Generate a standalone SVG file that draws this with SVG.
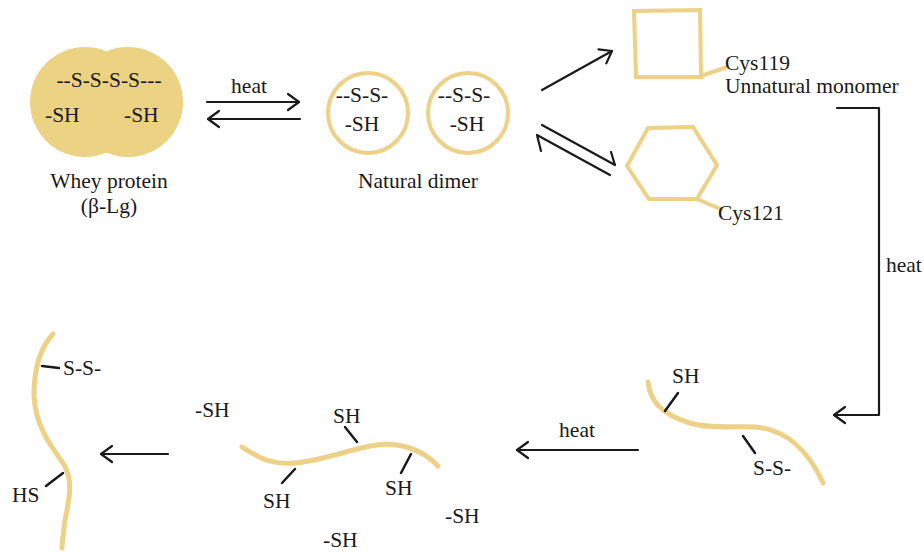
<svg xmlns="http://www.w3.org/2000/svg" width="924" height="552" viewBox="0 0 924 552">
  <style>
    text { font-family: "Liberation Serif", "Times New Roman", serif; font-size: 21.5px; fill: #1a1a1a; }
    .mid { text-anchor: middle; }
    .ring { fill: none; stroke: #ECD187; stroke-width: 4; }
    .chain { fill: none; stroke: #ECD187; stroke-width: 5; stroke-linecap: round; stroke-linejoin: round; }
    .tick { stroke: #1a1a1a; stroke-width: 2.5; stroke-linecap: round; }
    .arrow { fill: none; stroke: #1a1a1a; stroke-width: 2.2; stroke-linecap: round; stroke-linejoin: round; }
  </style>
  <defs>
    <marker id="head" viewBox="-14 -10 16 20" markerWidth="16" markerHeight="20" refX="0" refY="0" orient="auto" markerUnits="userSpaceOnUse">
      <path d="M-11,-8 L0,0 L-11,8" fill="none" stroke="#1a1a1a" stroke-width="2.2" stroke-linecap="round" stroke-linejoin="round"/>
    </marker>
  </defs>
  <rect width="924" height="552" fill="#ffffff"/>

  <!-- whey protein: two fused globules -->
  <g id="whey">
    <circle cx="85" cy="102" r="55" fill="#ECD283"/>
    <circle cx="128" cy="102" r="55" fill="#ECD283"/>
    <text x="109" y="87" class="mid">--S-S-S-S---</text>
    <text x="45" y="122">-SH</text>
    <text x="124" y="122">-SH</text>
    <text x="109" y="188" class="mid">Whey protein</text>
    <text x="109" y="213" class="mid">(β-Lg)</text>
  </g>

  <!-- natural dimer -->
  <g id="dimer">
    <circle cx="368" cy="113" r="40" class="ring"/>
    <circle cx="468" cy="113" r="40" class="ring"/>
    <text x="362" y="102" class="mid">--S-S-</text>
    <text x="362" y="131" class="mid">-SH</text>
    <text x="464" y="102" class="mid">--S-S-</text>
    <text x="467" y="131" class="mid">-SH</text>
    <text x="418" y="188" class="mid">Natural dimer</text>
  </g>

  <!-- unnatural monomer, Cys119 -->
  <g id="monomer119">
    <path d="M634,11 L700,10 L701,77 L636,77 Z" class="ring"/>
    <path d="M701,76 L727,67" class="ring" stroke-width="3"/>
    <text x="725" y="70">Cys119</text>
    <text x="725" y="93">Unnatural monomer</text>
  </g>

  <!-- monomer, Cys121 -->
  <g id="monomer121">
    <path d="M627,166 L648,128 L693,127 L717,165 L697,199 L649,199 Z" class="ring"/>
    <path d="M697,199 L723,210" class="ring" stroke-width="3"/>
    <text x="718" y="220">Cys121</text>
  </g>

  <!-- unfolded chain -->
  <g id="unfolded">
    <path d="M648,382 C650,400 660,414 690,423 C710,429 735,426 755,427 C785,429 808,450 823,483" class="chain"/>
    <line x1="678" y1="393" x2="665" y2="411" class="tick"/>
    <line x1="743" y1="436" x2="755" y2="453" class="tick"/>
    <text x="672" y="383">SH</text>
    <text x="753" y="475">S-S-</text>
  </g>

  <!-- chain with exposed thiols -->
  <g id="exposed">
    <path d="M242,447 C258,457 270,465 295,463 C320,461 345,451 370,446 C395,441 420,447 438,466" class="chain"/>
    <line x1="345" y1="427" x2="357" y2="442" class="tick"/>
    <line x1="295" y1="469" x2="282" y2="483" class="tick"/>
    <line x1="411" y1="454" x2="401" y2="473" class="tick"/>
    <text x="333" y="423">SH</text>
    <text x="263" y="508">SH</text>
    <text x="385" y="495">SH</text>
    <text x="195" y="417">-SH</text>
    <text x="445" y="523">-SH</text>
    <text x="323" y="547">-SH</text>
  </g>

  <!-- aggregated chain -->
  <g id="aggregate">
    <path d="M53,334 C40,348 34,370 34,395 C35,425 50,445 63,463 C74,480 69,500 65,520 C63,535 62,543 62,548" class="chain"/>
    <line x1="42" y1="366" x2="59" y2="368" class="tick"/>
    <line x1="63" y1="473" x2="46" y2="486" class="tick"/>
    <text x="63" y="375">S-S-</text>
    <text x="12" y="502">HS</text>
  </g>

  <!-- reaction arrows -->
  <g id="connectors">
    <line x1="207" y1="102" x2="299" y2="102" class="arrow" marker-end="url(#head)"/>
    <line x1="300" y1="119" x2="208" y2="119" class="arrow" marker-end="url(#head)"/>
    <text x="249" y="93" class="mid">heat</text>

    <line x1="542" y1="90" x2="612" y2="51" class="arrow" marker-end="url(#head)"/>

    <path d="M542,125 L615,165 L611,152" class="arrow"/>
    <path d="M610,175 L537,135 L541,151" class="arrow"/>

    <path d="M837,108 L879,108 L879,415 L834,415" class="arrow" marker-end="url(#head)"/>
    <text x="886" y="272">heat</text>

    <line x1="638" y1="450" x2="517" y2="450" class="arrow" marker-end="url(#head)"/>
    <text x="577" y="437" class="mid">heat</text>

    <line x1="168" y1="454" x2="101" y2="454" class="arrow" marker-end="url(#head)"/>
  </g>
</svg>
